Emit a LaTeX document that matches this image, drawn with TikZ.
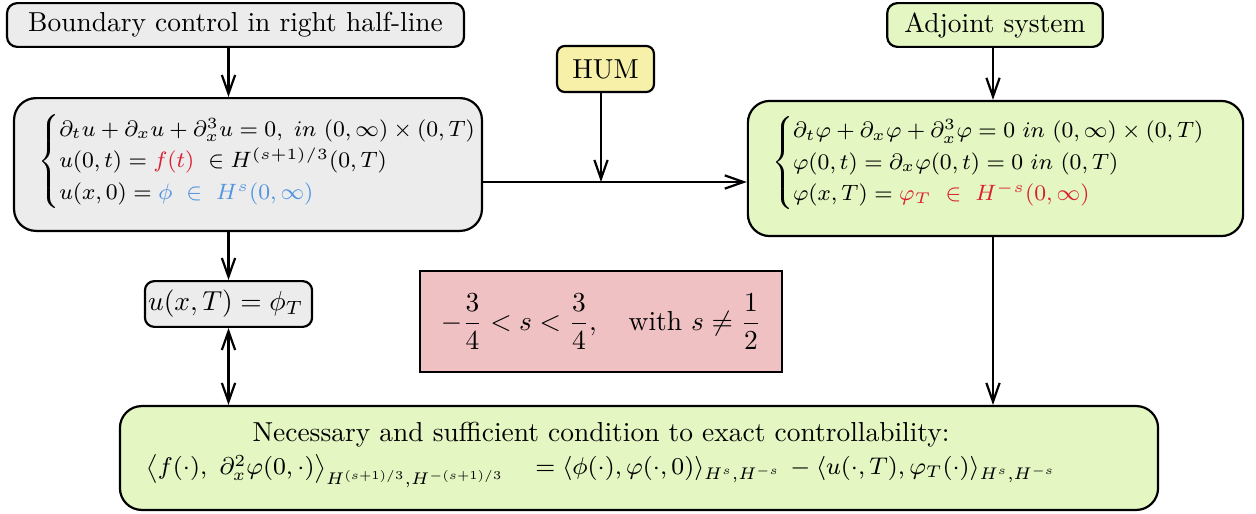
\RequirePackage{fix-cm}
\documentclass[tikz,border=0pt]{standalone}
\usepackage{amsmath,amssymb}
\usetikzlibrary{arrows.meta,calc}
\definecolor{bcGray}{RGB}{236,236,236}
\definecolor{bcGreen}{RGB}{228,247,194}
\definecolor{bcYellow}{RGB}{247,240,168}
\definecolor{bcPink}{RGB}{239,193,195}
\definecolor{bcRed}{RGB}{220,30,50}
\definecolor{bcBlue}{RGB}{80,148,226}
\newcommand{\eqsize}{\fontsize{8.1}{9.6}\selectfont}
\newcommand{\condsize}{\fontsize{8.8}{10}\selectfont}
\newcommand{\sysof}[1]{$\left\{\def\arraystretch{1.2}\begin{array}{@{}l@{}}#1\end{array}\right.$}

\begin{document}
\begin{tikzpicture}[x=0.0128cm, y=-0.0128cm,
  >={Straight Barb[length=2.4mm,width=1.7mm]},
  box/.style={draw, thick, rounded corners=1.3mm, minimum height=0.56cm},
  bigbox/.style={draw, thick, rounded corners=2.8mm},
  eqbox/.style={bigbox, font=\eqsize, align=left, inner xsep=0pt, text height=15pt},
  link/.style={->, thick}]
  \useasboundingbox (0,0) rectangle (1256,513);

  % control problem on the left
  \node[box, fill=bcGray, minimum width=5.85cm] (head) at (235.5,25) {Boundary control in right half-line};
  \node[eqbox, fill=bcGray, text width=5.99cm, minimum height=1.70cm, text depth=13.2pt] (sys) at (248,164.5)
    {\hspace*{0.31cm}\sysof{
      \partial_t u+\partial_x u+\partial_x^3 u=0,\ in\ (0,\infty)\times(0,T)\\
      u(0,t)=\textcolor{bcRed}{f(t)}\ \in H^{(s+1)/3}(0,T)\\
      u(x,0)=\textcolor{bcBlue}{\phi\ \in\ H^s(0,\infty)}}};
  \node[box, fill=bcGray, rounded corners=1.2mm, text width=2.06cm, inner xsep=0.04cm, align=left] (uT) at (228.5,304) {$u(x,T)=\phi_T$};

  % HUM
  \node[box, fill=bcYellow, rounded corners=1mm, minimum width=1.24cm, minimum height=0.59cm] (hum) at (605.5,69) {HUM};
  \coordinate (meet) at (601,182);

  % adjoint problem on the right
  \node[box, fill=bcGreen, minimum width=2.76cm] (adj) at (995,25) {Adjoint system};
  \node[eqbox, fill=bcGreen, text width=6.34cm, minimum height=1.73cm, text depth=15.1pt] (adjsys) at (995.5,168.5)
    {\hspace*{0.31cm}\sysof{
      \partial_t\varphi+\partial_x\varphi+\partial_x^3\varphi=0\ in\ (0,\infty)\times(0,T)\\
      \varphi(0,t)=\partial_x\varphi(0,t)=0\ in\ (0,T)\\
      \varphi(x,T)=\textcolor{bcRed}{\varphi_T\ \in\ H^{-s}(0,\infty)}}};

  % range of s
  \node[draw, thick, fill=bcPink, minimum width=4.63cm, minimum height=1.29cm] (range) at (601,321.5)
    {$\displaystyle -\frac{3}{4}<s<\frac{3}{4},\quad \text{with } s\neq\frac{1}{2}$};

  % condition
  \node[bigbox, fill=bcGreen, minimum width=13.29cm, minimum height=1.33cm] (cond) at (639,458) {};
  \node[align=center] (condtxt) at (601,455)
    {Necessary and sufficient condition to exact controllability:\\
     {\condsize$\big\langle f(\cdot),\ \partial_x^2\varphi(0,\cdot)\big\rangle_{H^{(s+1)/3},H^{-(s+1)/3}}\quad
      =\langle\phi(\cdot),\varphi(\cdot,0)\rangle_{H^s,H^{-s}}\,
      -\langle u(\cdot,T),\varphi_T(\cdot)\rangle_{H^s,H^{-s}}$}};

  % arrows
  \draw[link] (head.south -| uT) -- (sys.north -| uT);
  \draw[link] (sys.south -| uT) -- (uT.north);
  \draw[<->, thick] (uT.south) -- (cond.north -| uT);
  \draw[link] (hum.south -| meet) -- (meet);
  \draw[link] (sys.east |- meet) -- (adjsys.west |- meet);
  \draw[link] (adj.south -| 993,0) -- (adjsys.north -| 993,0);
  \draw[link] (adjsys.south -| 993,0) -- (cond.north -| 993,0);
\end{tikzpicture}
\end{document}
